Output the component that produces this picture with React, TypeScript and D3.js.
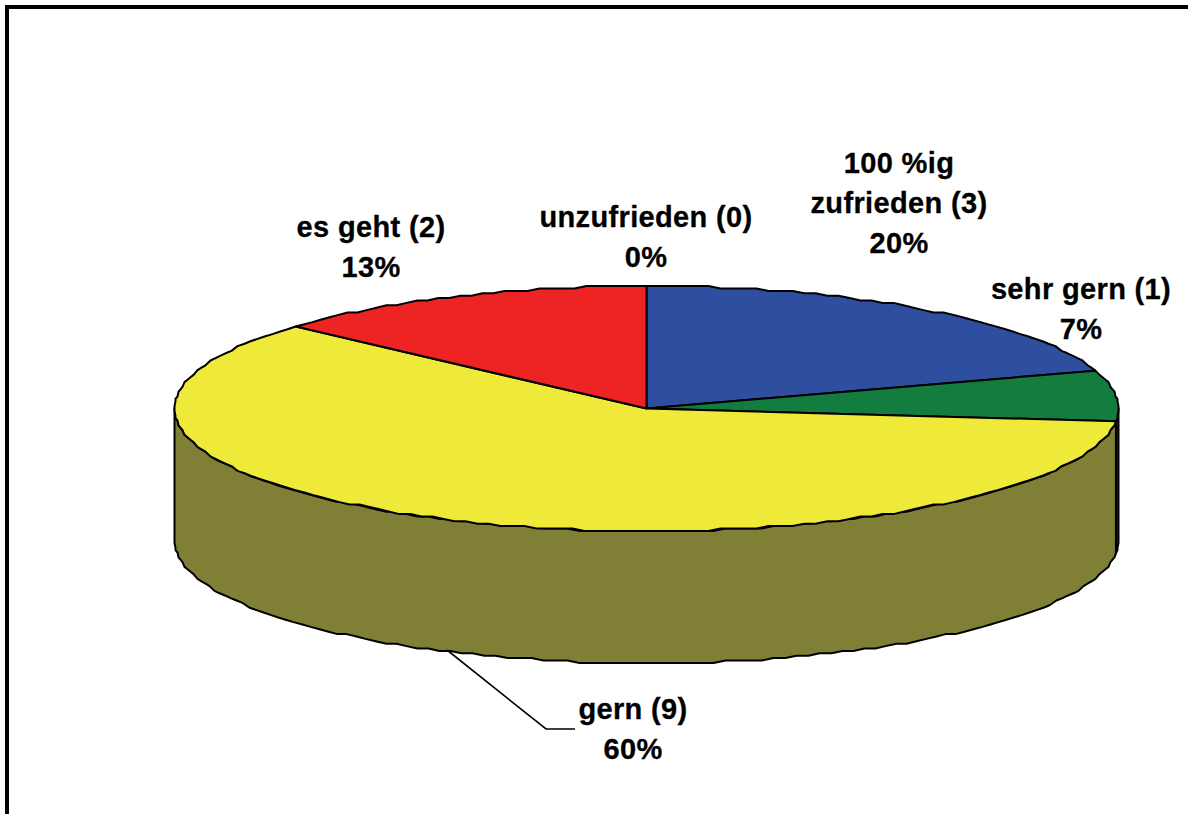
import React from "react";
import * as d3 from "d3";

// Satisfaction survey: number of answers per category
const categories = ["100 %ig zufrieden", "sehr gern", "gern", "es geht", "unzufrieden"];
const answerCounts = [3, 1, 9, 2, 0];
const topColors = ["#2E4E9F", "#137D3F", "#EFEA3A", "#EE2424", "#F0F0F0"];
const wallColors = ["#17274F", "#0A3F20", "#7F8035", "#771212", "#787878"];
const labelLines = [["100 %ig", "zufrieden (3)"], ["sehr gern (1)"], ["gern (9)"], ["es geht (2)"], ["unzufrieden (0)"]];
const labelCenters = [
  [899, 173],
  [1081, 299],
  [633, 719],
  [371, 237],
  [646, 227],
];

const WIDTH = 1188;
const HEIGHT = 814;
const CX = 646.5;
const CY = 408.5;
const RX = 472;
const RY = 122.5;
const DEPTH = 132;
const GRID_X = 1;
const GRID_Y = 2.4;
const LINE_GAP = 40;

const x = d3.scaleLinear().domain([-1, 1]).range([CX - RX, CX + RX]);
const y = d3.scaleLinear().domain([-1, 1]).range([CY - RY, CY + RY]);

// The outline is a slightly stepped polyline: points are snapped to a small grid
const snap = (v: number, g: number) => Math.round(v / g) * g;

function rimPoints(a0: number, a1: number, dy = 0): [number, number][] {
  const step = (1.5 * Math.PI) / 180;
  const n = Math.max(1, Math.ceil((a1 - a0) / step));
  return d3.range(n + 1).map((i) => {
    const a = a0 + ((a1 - a0) * i) / n;
    const atEnd = i === 0 || i === n;
    const px = x(Math.sin(a));
    const py = y(-Math.cos(a));
    return atEnd ? [px, py + dy] : [snap(px - CX, GRID_X) + CX, snap(py - CY, GRID_Y) + CY + dy];
  });
}

const pie = d3.pie<number>().sort(null).value((d) => d);
const slices = pie(answerCounts);
const total = d3.sum(answerCounts);
const line = d3.line();

const leader = d3.line()([
  [447, 650],
  [546, 729],
  [575, 729],
]);
const frame = d3.line()([
  [7, HEIGHT],
  [7, 7],
  [WIDTH, 7],
]);

export default function App() {
  const front = [Math.PI / 2, (3 * Math.PI) / 2];
  return (
    <svg
      width={WIDTH}
      height={HEIGHT}
      viewBox={`0 0 ${WIDTH} ${HEIGHT}`}
      style={{ position: "absolute", left: 0, top: 0, display: "block", background: "#fff" }}
    >
      <path d={frame ?? ""} fill="none" stroke="#000" strokeWidth={4} />

      {/* Side wall: only the part of the rim facing the viewer */}
      {slices.map((s, i) => {
        const a0 = Math.max(s.startAngle, front[0]);
        const a1 = Math.min(s.endAngle, front[1]);
        if (a1 <= a0) return null;
        const pts = [...rimPoints(a0, a1), ...rimPoints(a0, a1, DEPTH).reverse()];
        return (
          <path
            key={categories[i]}
            d={(line(pts) ?? "") + "Z"}
            fill={wallColors[i]}
            stroke="#000"
            strokeWidth={2}
            strokeLinejoin="round"
          />
        );
      })}

      {/* Top face */}
      {slices.map((s, i) => {
        if (s.endAngle <= s.startAngle) return null;
        const pts: [number, number][] = [[CX, CY], ...rimPoints(s.startAngle, s.endAngle)];
        return (
          <path
            key={categories[i]}
            d={(line(pts) ?? "") + "Z"}
            fill={topColors[i]}
            stroke="#000"
            strokeWidth={2}
            strokeLinejoin="round"
          />
        );
      })}

      <path d={leader ?? ""} fill="none" stroke="#000" strokeWidth={1.6} />

      {/* Data labels: name with count, then share in percent */}
      {labelLines.map((lines, i) => {
        const [lx, ly] = labelCenters[i];
        const pct = `${d3.format(".0f")((answerCounts[i] / total) * 100)}%`;
        return (
          <text
            key={categories[i]}
            fontFamily="'Liberation Sans', Arial, sans-serif"
            fontWeight="bold"
            fontSize={29}
            letterSpacing={0.35}
            textAnchor="middle"
            fill="#000"
            stroke="#000"
            strokeWidth={0.3}
          >
            {[...lines, pct].map((t, j) => (
              <tspan key={j} x={lx} y={ly + j * LINE_GAP}>
                {t}
              </tspan>
            ))}
          </text>
        );
      })}
    </svg>
  );
}
